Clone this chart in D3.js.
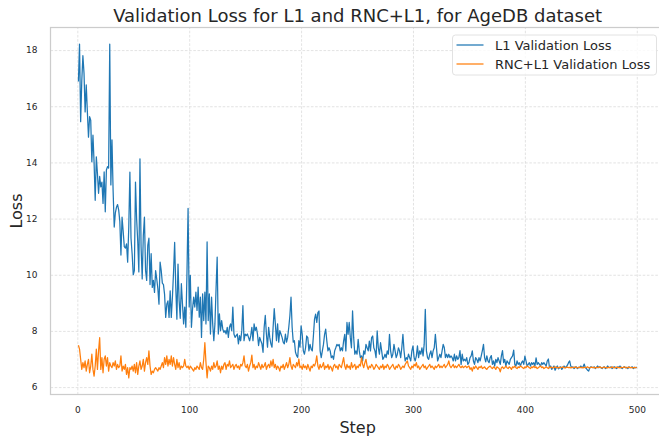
<!DOCTYPE html>
<html>
<head>
<meta charset="utf-8">
<script src="https://cdn.jsdelivr.net/npm/d3@7"></script>
<style>
  body { margin: 0; background: #fff; }
  svg { display: block; font-family: "DejaVu Sans", sans-serif; }
</style>
</head>
<body>
<svg id="chart" width="659" height="439"></svg>
<script>
// step index of each validation point
const steps = d3.range(1, 501);

// L1 validation loss (steps 1..500)
const l1Loss = [
  16.88, 18.21, 15.45, 16.9, 17.8, 17.18, 15.8, 16.76, 15.8, 14.9,
  15.63, 15.5, 14.02, 14.97, 14.0, 12.65, 14.2, 13.6, 12.9, 13.5,
  13.13, 13.3, 12.54, 13.66, 12.24, 13.73, 13.85, 13.8, 18.21, 13.2,
  14.8, 13.0, 11.7, 12.2, 12.4, 12.5, 12.3, 11.9, 10.7, 12.05,
  11.55, 11.0, 10.95, 11.1, 10.45, 11.7, 13.65, 11.3, 10.75, 10.0,
  10.15, 13.3, 12.0, 11.2, 10.1, 14.13, 11.0, 9.85, 11.4, 12.05,
  10.15, 9.8, 11.05, 11.3, 9.65, 10.75, 9.55, 9.8, 9.37, 10.15,
  9.85, 9.5, 8.95, 10.45, 10.15, 9.7, 9.65, 9.3, 8.48, 8.95,
  9.07, 8.48, 9.43, 8.48, 9.2, 10.08, 11.15, 9.55, 8.42, 10.38,
  9.08, 8.45, 9.68, 8.96, 8.25, 8.85, 8.13, 10.04, 12.36, 8.85,
  9.98, 8.13, 8.79, 9.2, 8.85, 9.38, 8.73, 9.56, 8.49, 9.2,
  7.77, 9.32, 8.37, 9.38, 8.25, 11.17, 8.37, 9.32, 7.89, 9.2,
  8.25, 7.65, 8.25, 9.5, 10.63, 7.89, 8.61, 8.01, 8.37, 8.07,
  7.95, 8.01, 7.89, 8.13, 7.77, 8.13, 8.25, 8.01, 8.85, 7.89,
  7.77, 7.83, 7.89, 7.54, 7.83, 7.65, 8.01, 8.9, 7.65, 7.89,
  7.83, 7.89, 7.77, 7.65, 7.83, 8.13, 7.65, 8.25, 8.01, 8.13,
  7.89, 7.48, 7.77, 7.65, 7.54, 7.24, 8.13, 8.55, 7.89, 7.42,
  8.13, 7.77, 7.54, 7.42, 8.13, 8.79, 8.25, 7.65, 8.25, 7.6,
  8.01, 7.89, 7.77, 7.6, 7.54, 7.89, 7.6, 7.77, 8.13, 8.55,
  9.2, 8.13, 7.6, 7.65, 7.24, 7.12, 7.06, 7.65, 7.42, 8.18,
  7.88, 7.29, 7.17, 7.4, 7.82, 7.76, 7.29, 7.52, 7.35, 7.29,
  7.82, 8.42, 8.6, 8.3, 8.65, 8.71, 7.29, 7.05, 7.29, 7.52,
  7.88, 8.06, 7.64, 7.29, 7.4, 7.29, 7.05, 7.11, 6.99, 7.29,
  7.4, 7.52, 7.47, 7.52, 7.29, 7.4, 7.29, 7.64, 7.88, 7.29,
  8.3, 7.88, 8.3, 7.76, 7.4, 8.71, 7.76, 7.17, 7.29, 7.17,
  7.7, 7.29, 7.05, 7.11, 6.93, 7.29, 7.17, 7.52, 7.4, 7.29,
  7.64, 7.29, 7.76, 7.82, 7.4, 7.29, 7.05, 8.0, 7.4, 7.17,
  7.58, 7.29, 6.99, 7.05, 7.17, 7.05, 7.29, 7.17, 7.88, 7.29,
  7.05, 7.17, 7.52, 7.29, 7.05, 7.17, 7.4, 7.29, 7.05, 7.4,
  7.88, 7.29, 6.93, 7.05, 6.99, 7.17, 7.05, 6.93, 7.29, 7.47,
  7.05, 6.93, 7.11, 7.47, 7.05, 7.29, 7.17, 7.4, 7.11, 7.52,
  8.77, 7.29, 7.05, 6.99, 7.17, 7.29, 7.05, 7.29, 7.4, 7.88,
  7.4, 6.93, 7.05, 7.17, 7.05, 7.29, 7.52, 7.4, 7.05, 7.17,
  7.05, 7.17, 7.05, 7.11, 7.05, 6.93, 7.17, 6.93, 7.11, 6.99,
  7.05, 7.3, 6.81, 7.17, 6.93, 6.99, 6.93, 7.05, 6.81, 6.87,
  7.05, 7.11, 7.29, 6.93, 6.81, 7.05, 6.99, 6.87, 7.05, 6.93,
  7.11, 7.3, 7.52, 7.05, 6.9, 7.11, 6.93, 6.87, 7.05, 7.12,
  6.81, 6.93, 6.75, 6.99, 6.87, 7.05, 6.93, 6.81, 7.11, 7.3,
  6.87, 6.99, 6.75, 6.93, 6.87, 6.81, 6.99, 7.05, 7.11, 7.32,
  6.81, 6.75, 6.93, 6.81, 6.87, 6.75, 6.87, 6.93, 6.81, 7.1,
  6.93, 6.75, 6.81, 6.87, 6.75, 6.87, 6.81, 6.87, 6.75, 7.04,
  6.81, 6.87, 6.81, 6.75, 6.87, 6.81, 6.87, 6.81, 6.75, 6.93,
  7.0, 6.69, 6.75, 6.63, 6.69, 6.75, 6.6, 6.69, 6.75, 6.65,
  6.69, 6.72, 6.63, 6.69, 6.75, 6.69, 6.72, 6.78, 6.87, 6.93,
  6.75, 6.69, 6.72, 6.66, 6.7, 6.72, 6.66, 6.7, 6.69, 6.75,
  6.69, 6.72, 6.82, 6.69, 6.66, 6.6, 6.57, 6.69, 6.72, 6.7,
  6.69, 6.72, 6.66, 6.7, 6.75, 6.69, 6.72, 6.69, 6.66, 6.7,
  6.72, 6.66, 6.69, 6.75, 6.7, 6.69, 6.72, 6.66, 6.7, 6.72,
  6.69, 6.66, 6.72, 6.7, 6.75, 6.69, 6.66, 6.7, 6.72, 6.69,
  6.7, 6.66, 6.72, 6.69, 6.7, 6.72, 6.66, 6.7, 6.69, 6.71
];

// RNC+L1 validation loss (steps 1..500)
const rncLoss = [
  7.49, 7.35, 6.99, 6.63, 6.87, 6.69, 6.93, 6.57, 6.81, 6.99,
  6.51, 6.75, 7.17, 6.63, 6.39, 6.75, 7.35, 6.63, 7.29, 7.76,
  6.63, 7.05, 6.51, 6.99, 7.11, 6.75, 7.05, 6.57, 6.87, 6.75,
  6.69, 6.87, 6.75, 6.93, 6.63, 6.81, 6.69, 6.75, 7.11, 6.57,
  6.75, 6.63, 6.81, 6.45, 6.69, 6.33, 6.69, 6.63, 6.75, 6.57,
  6.81, 6.51, 6.87, 6.45, 6.75, 6.93, 6.63, 6.75, 6.99, 6.57,
  6.87, 7.05, 6.81, 7.29, 6.75, 6.45, 6.57, 6.51, 6.63, 6.69,
  6.63, 6.57, 6.69, 6.63, 6.75, 6.87, 6.69, 7.05, 6.81, 7.11,
  6.75, 6.99, 6.81, 7.11, 6.75, 7.05, 6.81, 6.63, 6.99, 6.69,
  6.87, 6.63, 6.75, 6.69, 6.75, 6.99, 6.75, 6.69, 6.75, 6.63,
  6.75, 6.69, 6.63, 6.57, 6.69, 6.63, 6.75, 6.69, 6.63, 6.87,
  6.69, 6.63, 6.99, 7.58, 6.87, 6.33, 6.75, 6.69, 6.57, 6.75,
  6.63, 6.87, 6.69, 6.75, 6.93, 6.63, 6.75, 6.51, 6.75, 6.63,
  6.81, 6.87, 6.63, 6.81, 6.75, 6.93, 6.69, 6.75, 6.81, 6.63,
  6.75, 6.81, 6.69, 6.75, 6.63, 6.81, 6.75, 6.87, 7.11, 6.75,
  6.69, 6.81, 6.57, 6.75, 6.87, 7.14, 6.69, 6.81, 6.63, 6.75,
  6.69, 6.87, 6.75, 6.63, 6.81, 6.69, 6.75, 6.87, 6.63, 6.75,
  6.81, 6.69, 6.93, 6.75, 6.99, 6.69, 6.81, 6.63, 6.75, 6.69,
  6.57, 6.75, 6.69, 6.81, 6.63, 6.75, 6.87, 6.69, 6.81, 7.05,
  6.75, 6.63, 6.81, 6.75, 6.69, 6.87, 6.75, 7.0, 6.69, 6.75,
  6.63, 6.81, 6.69, 6.75, 6.63, 6.81, 6.69, 6.57, 6.75, 6.69,
  6.81, 6.75, 6.87, 7.11, 6.75, 6.63, 6.81, 6.69, 6.75, 6.87,
  6.63, 6.75, 6.69, 6.81, 6.63, 6.75, 6.69, 6.57, 6.75, 6.81,
  6.69, 6.75, 6.63, 6.81, 6.75, 6.69, 6.87, 7.05, 6.75, 6.63,
  6.81, 6.69, 6.75, 6.63, 6.87, 6.69, 6.75, 6.81, 6.63, 6.75,
  6.69, 6.81, 6.75, 7.05, 6.81, 6.69, 6.87, 6.99, 6.75, 6.63,
  6.75, 6.69, 6.81, 6.75, 6.63, 6.69, 6.81, 6.75, 6.69, 6.63,
  6.75, 6.69, 6.81, 6.63, 6.75, 6.69, 6.81, 6.75, 6.63, 6.69,
  6.75, 6.81, 6.69, 6.63, 6.75, 6.69, 6.81, 6.75, 6.63, 6.69,
  6.75, 6.69, 6.81, 6.87, 6.93, 6.75, 6.69, 6.63, 6.75, 6.69,
  6.81, 6.75, 6.87, 6.69, 6.75, 6.63, 6.69, 6.75, 6.81, 6.69,
  6.75, 6.63, 6.69, 6.75, 6.81, 6.69, 6.75, 6.69, 6.63, 6.75,
  6.69, 6.75, 6.81, 6.69, 6.75, 6.69, 6.75, 6.81, 6.69, 6.75,
  6.81, 6.93, 6.75, 6.69, 6.75, 6.81, 6.69, 6.75, 6.69, 6.75,
  6.81, 6.72, 6.69, 6.75, 6.69, 6.72, 6.75, 6.69, 6.72, 6.75,
  6.63, 6.69, 6.57, 6.72, 6.66, 6.75, 6.69, 6.63, 6.72, 6.69,
  6.75, 6.66, 6.69, 6.72, 6.66, 6.63, 6.69, 6.72, 6.75, 6.69,
  6.66, 6.72, 6.69, 6.63, 6.72, 6.69, 6.66, 6.54, 6.69, 6.72,
  6.66, 6.69, 6.75, 6.69, 6.66, 6.72, 6.69, 6.63, 6.72, 6.69,
  6.75, 6.69, 6.66, 6.72, 6.69, 6.75, 6.72, 6.69, 6.66, 6.72,
  6.69, 6.75, 6.72, 6.69, 6.66, 6.72, 6.69, 6.75, 6.69, 6.72,
  6.66, 6.69, 6.72, 6.75, 6.69, 6.72, 6.66, 6.69, 6.72, 6.69,
  6.66, 6.72, 6.69, 6.71, 6.68, 6.7, 6.72, 6.69, 6.7, 6.68,
  6.71, 6.69, 6.7, 6.72, 6.69, 6.68, 6.7, 6.71, 6.69, 6.7,
  6.68, 6.71, 6.69, 6.7, 6.72, 6.69, 6.68, 6.7, 6.71, 6.69,
  6.7, 6.68, 6.71, 6.69, 6.7, 6.72, 6.69, 6.68, 6.7, 6.71,
  6.69, 6.7, 6.68, 6.71, 6.69, 6.7, 6.72, 6.69, 6.68, 6.7,
  6.71, 6.69, 6.7, 6.68, 6.71, 6.69, 6.7, 6.72, 6.69, 6.68,
  6.7, 6.71, 6.69, 6.7, 6.68, 6.71, 6.69, 6.7, 6.72, 6.69,
  6.68, 6.7, 6.71, 6.69, 6.7, 6.68, 6.69, 6.7, 6.69, 6.69
];

const xTicks = [0, 100, 200, 300, 400, 500];
const yTicks = [6, 8, 10, 12, 14, 16, 18];
const seriesNames = ['L1 Validation Loss', 'RNC+L1 Validation Loss'];
const seriesColors = ['#1f77b4', '#ff7f0e'];

const svg = d3.select('#chart');
// plot box (the right edge runs a bit past the picture, like the source)
const plot = {left: 50.5, right: 664.7, top: 27.5, bottom: 394.5};
const textColor = '#262626';

// matplotlib style 5% margins
const xPad = (steps[steps.length - 1] - steps[0]) * 0.05;
const x = d3.scaleLinear()
  .domain([steps[0] - xPad, steps[steps.length - 1] + xPad])
  .range([plot.left, plot.right]);
const lo = Math.min(d3.min(l1Loss), d3.min(rncLoss));
const hi = Math.max(d3.max(l1Loss), d3.max(rncLoss));
const yPad = (hi - lo) * 0.05;
const y = d3.scaleLinear().domain([lo - yPad, hi + yPad]).range([plot.bottom, plot.top]);

const plotW = plot.right - plot.left;
const plotH = plot.bottom - plot.top;

// grid + tick labels
svg.append('g')
  .attr('transform', 'translate(0,' + plot.bottom + ')')
  .call(d3.axisBottom(x).tickValues(xTicks).tickSize(-plotH).tickPadding(12))
  .call(function (g) {
    g.select('.domain').remove();
    g.selectAll('.tick line').attr('stroke', '#dcdcdc').attr('stroke-width', 0.8).attr('stroke-dasharray', '2.6,1.6');
    g.selectAll('.tick text').attr('fill', textColor).style('font-size', '9px').style('font-family', 'DejaVu Sans');
  });
svg.append('g')
  .attr('transform', 'translate(' + plot.left + ',0)')
  .call(d3.axisLeft(y).tickValues(yTicks).tickSize(-plotW).tickPadding(13))
  .call(function (g) {
    g.select('.domain').remove();
    g.selectAll('.tick line').attr('stroke', '#dcdcdc').attr('stroke-width', 0.8).attr('stroke-dasharray', '2.6,1.6');
    g.selectAll('.tick text').attr('fill', textColor).style('font-size', '9px').style('font-family', 'DejaVu Sans');
  });

// lines
svg.append('clipPath').attr('id', 'clip')
  .append('rect').attr('x', plot.left).attr('y', plot.top).attr('width', plotW).attr('height', plotH);

const line = d3.line()
  .x(function (d, i) { return x(steps[i]); })
  .y(function (d) { return y(d); });

[l1Loss, rncLoss].forEach(function (series, k) {
  svg.append('path')
    .datum(series)
    .attr('clip-path', 'url(#clip)')
    .attr('fill', 'none')
    .attr('stroke', seriesColors[k])
    .attr('stroke-width', 1.25)
    .attr('stroke-linejoin', 'round')
    .attr('d', line);
});

// spines
svg.append('rect')
  .attr('x', plot.left).attr('y', plot.top)
  .attr('width', plotW).attr('height', plotH)
  .attr('fill', 'none').attr('stroke', '#cccccc').attr('stroke-width', 1.25);

// title and axis labels
svg.append('text')
  .attr('x', (plot.left + plot.right) / 2).attr('y', 22)
  .attr('text-anchor', 'middle').attr('fill', textColor)
  .style('font-size', '18px')
  .text('Validation Loss for L1 and RNC+L1, for AgeDB dataset');
svg.append('text')
  .attr('x', (plot.left + plot.right) / 2).attr('y', 433)
  .attr('text-anchor', 'middle').attr('fill', textColor)
  .style('font-size', '16px')
  .text('Step');
svg.append('text')
  .attr('transform', 'translate(21.5,' + ((plot.top + plot.bottom) / 2) + ') rotate(-90)')
  .attr('text-anchor', 'middle').attr('fill', textColor)
  .style('font-size', '16px')
  .text('Loss');

// legend
const legend = svg.append('g').attr('transform', 'translate(452.5,35)');
legend.append('rect')
  .attr('width', 204).attr('height', 40).attr('rx', 3)
  .attr('fill', '#fff').attr('fill-opacity', 0.8)
  .attr('stroke', '#e2e2e2').attr('stroke-width', 1);
seriesNames.forEach(function (name, k) {
  const ly = 10 + k * 19;
  legend.append('line')
    .attr('x1', 4).attr('x2', 31).attr('y1', ly).attr('y2', ly)
    .attr('stroke', seriesColors[k]).attr('stroke-width', 1.25);
  legend.append('text')
    .attr('x', 42.5).attr('y', ly + 4.8)
    .attr('fill', textColor).style('font-size', '13px')
    .text(name);
});
</script>
</body>
</html>
